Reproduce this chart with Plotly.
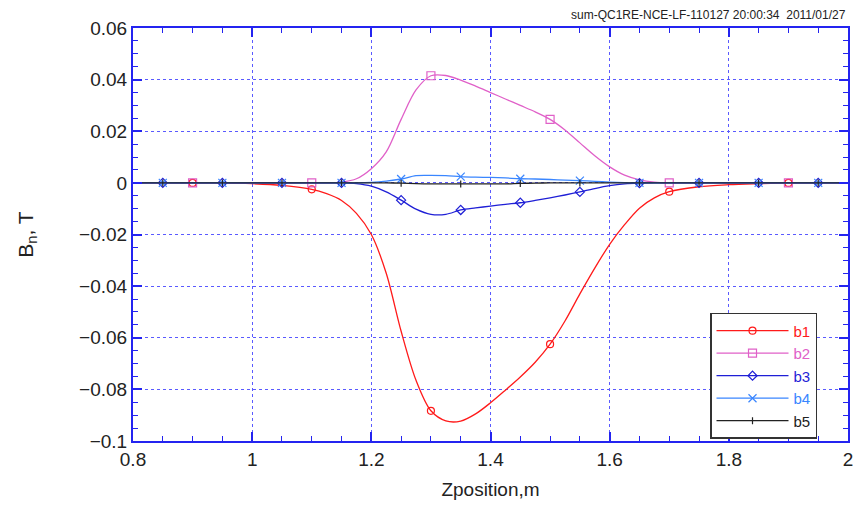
import plotly.graph_objects as go

# ---- data ----
z = [0.80, 0.85, 0.90, 0.95, 1.00, 1.05, 1.10, 1.125, 1.15, 1.175, 1.20, 1.225, 1.25,
     1.275, 1.30, 1.325, 1.35, 1.375, 1.40, 1.425, 1.45, 1.475, 1.50, 1.525, 1.55,
     1.575, 1.60, 1.625, 1.65, 1.675, 1.70, 1.75, 1.80, 1.85, 1.90, 1.95, 2.00]

b1 = [0, 0, 0, 0, -0.0003, -0.001, -0.0025, -0.0042, -0.0068, -0.0118, -0.020, -0.035, -0.0575,
      -0.0765, -0.0883, -0.0922, -0.0923, -0.0895, -0.0852, -0.0803, -0.0752, -0.0695, -0.0625,
      -0.0535, -0.043, -0.033, -0.0238, -0.0162, -0.0098, -0.0058, -0.0034, -0.0015, -0.0007,
      -0.0003, 0, 0, 0]

b2 = [0, 0, 0, 0, 0, 0, 0, 0, 0.0003, 0.0016, 0.0055, 0.012, 0.0246,
      0.036, 0.0415, 0.0416, 0.0398, 0.0375, 0.0350, 0.0325, 0.0300, 0.0275, 0.0246,
      0.0205, 0.0155, 0.0105, 0.0062, 0.003, 0.0012, 0.0003, 0, 0, 0,
      0, 0, 0, 0]

b3 = [0, 0, 0, 0, 0, 0, 0, 0, 0, -0.0003, -0.0013, -0.0035, -0.0067,
      -0.0102, -0.0122, -0.0122, -0.0105, -0.0097, -0.0090, -0.0083, -0.0077, -0.0068, -0.0058,
      -0.0047, -0.0035, -0.0022, -0.0011, -0.0004, -0.0001, 0, 0, 0, 0,
      0, 0, 0, 0]

b4 = [0, 0, 0, 0, 0, 0, 0, 0, 0, 0, 0.0002, 0.0007, 0.0015,
      0.0028, 0.0029, 0.0028, 0.0024, 0.0022, 0.0021, 0.0019, 0.0016, 0.0015, 0.0013,
      0.0011, 0.0009, 0.0006, 0.0003, 0.0001, 0, 0, 0, 0, 0,
      0, 0, 0, 0]

b5 = [0, 0, 0, 0, 0, 0, 0, 0, 0, 0, 0, 0, -0.0001,
      -0.0003, -0.0004, -0.0004, -0.0004, -0.0004, -0.0004, -0.0004, -0.0002, -0.0001, 0,
      0, 0, 0, 0, 0, 0, 0, 0, 0, 0,
      0, 0, 0, 0]

marks_a = [0.90, 1.10, 1.30, 1.50, 1.70, 1.90]                      # b1, b2 markers
marks_b = [0.85, 0.95, 1.05, 1.15, 1.25, 1.35, 1.45, 1.55, 1.65, 1.75, 1.85, 1.95]  # b3-b5

series = [
    ("b1", b1, "#ff1a1a", "circle-open", 7, marks_a),
    ("b2", b2, "#e060c8", "square-open", 8, marks_a),
    ("b3", b3, "#1f1fd6", "diamond-open", 7, marks_b),
    ("b4", b4, "#3a86ff", "x-thin-open", 8, marks_b),
    ("b5", b5, "#222222", "line-ns-open", 5, marks_b),
]

title_small = "sum-QC1RE-NCE-LF-110127 20:00:34  2011/01/27"

FONT = "Liberation Sans, Arial, sans-serif"
AXC = "#2424f0"
GRIDC = "#5a5aff"

fig = go.Figure()
for name, vals, col, sym, ms, marks in series:
    fig.add_trace(go.Scatter(x=z, y=vals, mode="lines",
                             line=dict(color=col, width=1.3, shape="spline", smoothing=0.9),
                             showlegend=False, hoverinfo="skip"))
    my = [vals[z.index(m)] for m in marks]
    fig.add_trace(go.Scatter(x=marks, y=my, mode="markers",
                             marker=dict(symbol=sym, size=ms, color=col, line=dict(color=col, width=1.2)),
                             showlegend=False))
    fig.add_trace(go.Scatter(x=[None], y=[None], mode="lines+markers",
                             name=f"<span style='color:{col}'>{name}</span>",
                             line=dict(color=col, width=1.3),
                             marker=dict(symbol=sym, size=ms, color=col, line=dict(color=col, width=1.2))))

fig.update_xaxes(range=[0.8, 2.0], dtick=0.2, tick0=0.8, showline=True, linecolor=AXC, linewidth=2,
                 mirror="ticks", ticks="inside", ticklen=9, tickwidth=1.5, tickcolor=AXC,
                 showgrid=True, gridcolor=GRIDC, griddash="dot", gridwidth=1, zeroline=False,
                 minor=dict(dtick=0.05, ticks="inside", ticklen=5, tickcolor=AXC, tickwidth=1.2, showgrid=False),
                 tickfont=dict(family=FONT, size=19, color="#222"),
                 title=dict(text="Zposition,m", font=dict(family=FONT, size=19, color="#222"), standoff=14))
fig.update_yaxes(range=[-0.1, 0.06], dtick=0.02, tick0=0, showline=True, linecolor=AXC, linewidth=2,
                 mirror="ticks", ticks="inside", ticklen=9, tickwidth=1.5, tickcolor=AXC,
                 showgrid=True, gridcolor=GRIDC, griddash="dot", gridwidth=1, zeroline=False,
                 minor=dict(dtick=0.005, ticks="inside", ticklen=5, tickcolor=AXC, tickwidth=1.2, showgrid=False),
                 tickfont=dict(family=FONT, size=19, color="#222"),
                 title=dict(text="B<sub>n</sub>, T", font=dict(family=FONT, size=21, color="#222"), standoff=40))

fig.add_annotation(text=title_small, xref="paper", yref="paper", x=1.0, y=1.0, xanchor="right",
                   yanchor="bottom", yshift=4, showarrow=False,
                   font=dict(family=FONT, size=12, color="#222"))

fig.update_layout(
    width=865, height=509, margin=dict(l=133, r=17, t=28, b=58),
    paper_bgcolor="white", plot_bgcolor="white",
    legend=dict(x=0.807, y=0.31, xanchor="left", yanchor="top", bgcolor="white",
                bordercolor="#333", borderwidth=1.5, itemwidth=72,
                font=dict(family=FONT, size=15, color="#222"), tracegroupgap=0),
    showlegend=True,
)

fig.write_html("out.html")
